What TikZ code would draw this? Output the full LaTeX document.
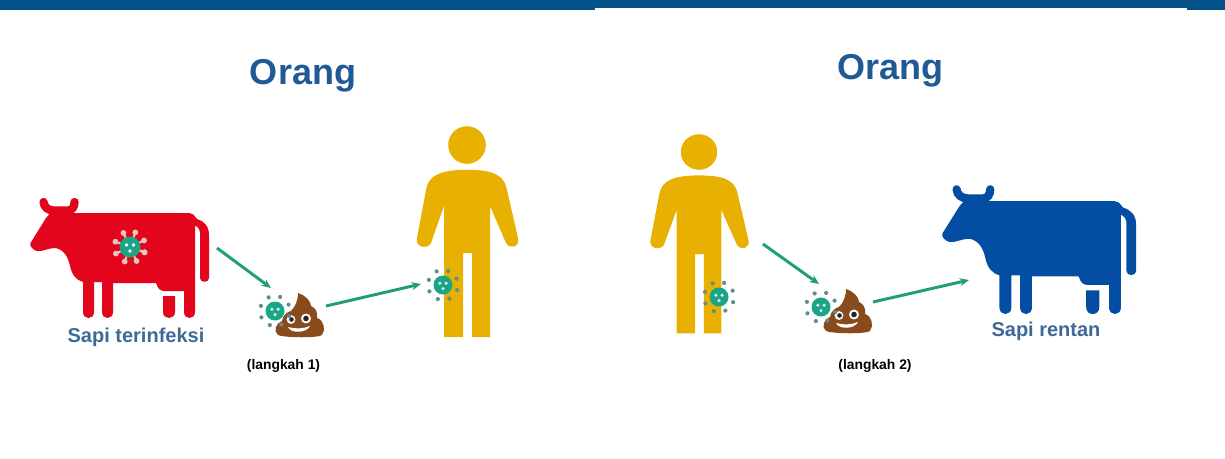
\documentclass[tikz,border=0pt]{standalone}
\usepackage{fontspec}
\setmainfont{Liberation Sans}
\definecolor{barblue}{HTML}{04528A}
\definecolor{titleblue}{HTML}{1F5A96}
\definecolor{labelblue}{HTML}{3F6A98}
\definecolor{cowred}{HTML}{E2051B}
\definecolor{cowblue}{HTML}{034EA2}
\definecolor{manyellow}{HTML}{E8B000}
\definecolor{virusgreen}{HTML}{1BA587}
\definecolor{arrowgreen}{HTML}{1F9E7C}
\definecolor{poopbrown}{HTML}{8A4B1C}
\definecolor{spikegrey}{HTML}{5F8F88}
\definecolor{spikepale}{HTML}{E9C3BE}
\usetikzlibrary{arrows.meta}
\tikzset{
  flow/.style={draw=arrowgreen,line width=2.2pt,-{Stealth[length=7pt,width=6pt]}},
  titletext/.style={text=titleblue,font=\fontsize{27}{30}\selectfont\bfseries,inner sep=0pt},
  cowlabel/.style={text=labelblue,font=\fontsize{15}{18}\selectfont\bfseries,inner sep=0pt},
  steplabel/.style={text=black,font=\fontsize{10.4}{12}\selectfont\bfseries,inner sep=0pt},
  pics/cow/.style={code={
    \draw[#1,line width=6.2pt,line cap=round] (43.5,202) .. controls (44,207) and (48,210.5) .. (54,210.5)
      -- (68,210.5) .. controls (72,210.5) and (74.5,207) .. (74.5,202);
    \fill[#1] (46,218) -- (52,211) -- (72,211) -- (74,213)
      -- (189,213) .. controls (192,213) and (193,214) .. (197,219)
      .. controls (204,221) and (209,226) .. (209,235) -- (209,278)
      .. controls (209,283) and (200,283) .. (200,278) -- (200,232)
      .. controls (200,229) and (198,228) .. (196,226) -- (195,226) -- (195,312)
      .. controls (195,320) and (184,320) .. (184,312) -- (184,291) -- (165,291)
      .. controls (160,291) and (158,289) .. (156,283) -- (113,283) -- (113,312)
      .. controls (113,320) and (102,320) .. (102,312) -- (102,282) -- (94,282) -- (94,312)
      .. controls (94,320) and (83,320) .. (83,312) -- (83,282)
      .. controls (76,280) and (72,275) .. (70,266) .. controls (68,256) and (63,249) .. (55,248)
      .. controls (48,248) and (42,252) .. (37,251)
      .. controls (33,250) and (29,246) .. (30.5,243) -- cycle;
    \fill[#1] (163,296) -- (175,296) -- (175,312)
      .. controls (175,320) and (163,320) .. (163,312) -- cycle;
  }},
  pics/person/.style={code={
    \fill[#1] (467,145) circle (18.8);
    \fill[#1] (444,172) .. controls (456,169) and (478,169) .. (490,172)
      .. controls (499,175) and (505,179) .. (507,190)
      -- (518,238) .. controls (520,247) and (510,250) .. (506,243)
      -- (490,206) -- (490,337) -- (472,337) -- (472,253) -- (463,253) -- (463,337)
      -- (444,337) -- (444,206) -- (431,243)
      .. controls (427,250) and (415,247) .. (417,238)
      -- (426,190) .. controls (428,179) and (434,175) .. (444,172) -- cycle;
  }},
  pics/poop/.style={code={
    \fill[poopbrown] (-1,-22) .. controls (6,-20) and (12,-14) .. (12,-9)
      .. controls (17,-7) and (19,-2) .. (18,3)
      .. controls (25,5) and (27,15) .. (23,20) .. controls (20,23) and (-14,23) .. (-21,20)
      .. controls (-26,16) and (-23,8) .. (-17,6)
      .. controls (-16,0) and (-12,-3) .. (-8,-4)
      .. controls (-4,-8) and (-1,-14) .. (-1,-22) -- cycle;
    \fill[white] (-8,4.5) circle (4.4) (7,3.5) circle (5);
    \fill[black!85] (-7.5,4.5) circle (2.3) (7,3.5) circle (2.8);
    \fill[white] (-11,12) .. controls (-4,14) and (4,14) .. (11,11)
      .. controls (8,18) and (-8,19) .. (-11,12) -- cycle;
  }},
  pics/virusbig/.style={code={
    \foreach \a in {20,65,...,380}{
      \draw[spikepale,line width=1.6pt] (\a:9) -- (\a:15);
      \fill[spikepale] (\a:15.5) circle (2.9);
    }
    \fill[virusgreen] (0,0) circle (10.5);
    \fill[white] (90:4) circle (1.9) (210:4) circle (1.9) (330:4) circle (1.9);
  }},
  pics/virussmall/.style={code={
    \foreach \a in {0,45,...,315}{
      \fill[spikegrey] (\a+20:15) circle (2.1);
    }
    \fill[virusgreen] (0,0) circle (9.5);
    \fill[white!85!virusgreen] (90:3.6) circle (1.7) (210:3.6) circle (1.7) (330:3.6) circle (1.7);
  }},
}
\begin{document}
\begin{tikzpicture}[x=0.75pt,y=-0.75pt]
\useasboundingbox (0,0) rectangle (1225,458);
\fill[white] (0,0) rectangle (1225,458);
% top bars
\fill[barblue] (0,0) rectangle (1225,8);
\fill[barblue] (0,8) rectangle (595,10);
\fill[barblue] (1187,8) rectangle (1225,10);
% titles
\node[titletext] (titleA) at (303,76) {Orang};
\node[titletext] (titleB) at (890,71) {Orang};
% cows and people
\pic at (0,0) {cow={cowred}};
\begin{scope}[shift={(943,185)},xscale=1.085,yscale=1.075,shift={(-31,-198)}]
\pic[transform shape] at (0,0) {cow={cowblue}};
\end{scope}
\pic at (0,0) {person={manyellow}};
\begin{scope}[shift={(699,152)},xscale=0.97,yscale=0.945,shift={(-467,-145)}]
\pic[transform shape] at (0,0) {person={manyellow}};
\end{scope}
% labels
\node[cowlabel] (labelA) at (136,337) {Sapi terinfeksi};
\node[cowlabel] (labelB) at (1046,331) {Sapi rentan};
\node[steplabel] (stepA) at (283.5,366) {(langkah 1)};
\node[steplabel] (stepB) at (875,366) {(langkah 2)};
% poop
\pic at (299,315) {poop};
\pic at (847,311) {poop};
% viruses
\pic at (130,247) {virusbig};
\pic at (275,311) {virussmall};
\pic at (443,285) {virussmall};
\pic at (719,297) {virussmall};
\pic at (821,307) {virussmall};
% connector ends
\coordinate (a1) at (217,248);
\coordinate (a2) at (271,288);
\coordinate (b1) at (326,306);
\coordinate (b2) at (421,284);
\coordinate (c1) at (763,244);
\coordinate (c2) at (819,284);
\coordinate (d1) at (873,302);
\coordinate (d2) at (969,280);
\draw[flow] (a1) -- (a2);
\draw[flow] (b1) -- (b2);
\draw[flow] (c1) -- (c2);
\draw[flow] (d1) -- (d2);
\end{tikzpicture}
\end{document}
